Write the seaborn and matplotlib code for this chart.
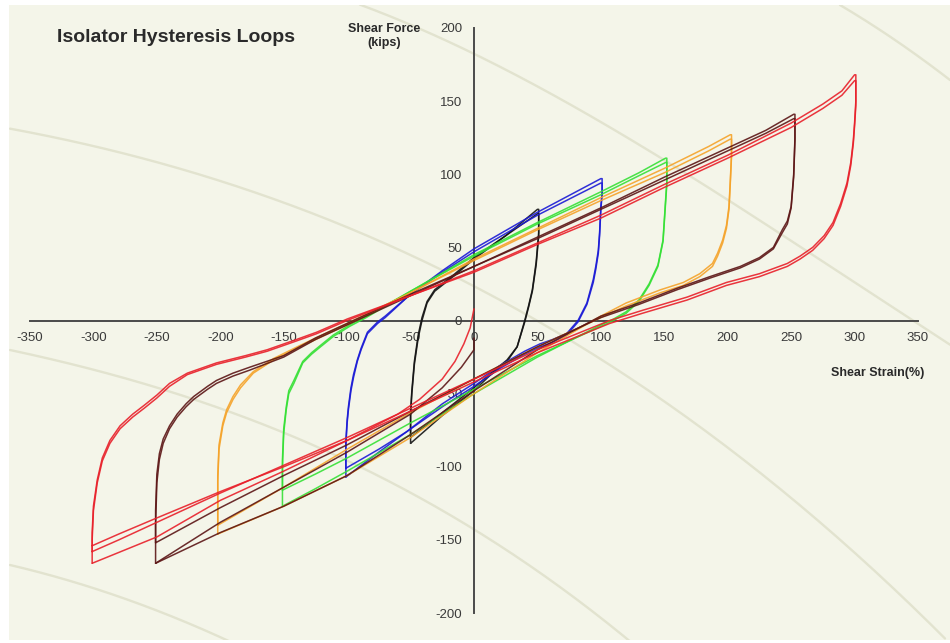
import numpy as np
import pandas as pd
import matplotlib
matplotlib.use("Agg")
import matplotlib.pyplot as plt
import seaborn as sns

# ---------------- data ----------------
# amplitude 50 % (black)
s50 = [-50, -50, -49, -47, -44, -41, -37, -31, -15, 0, 25, 50, 51, 51, 49, 46, 43, 40, 34, 26, 12, 0, -25, -50]
f50_c1 = [-84, -65, -50, -30, -12, 0, 12, 20, 31, 42, 58, 76, 76, 60, 40, 21, 10, 0, -18, -28, -38, -48, -65, -84]
f50_c2 = [-80, -62, -48, -28, -10, 2, 13, 21, 32, 43, 58, 73, 73, 58, 38, 20, 9, -1, -18, -27, -37, -46, -63, -80]

# amplitude 100 % (blue)
s100 = [-101, -101, -100, -99, -97, -95, -92, -89, -84, -76, -70, -50, -25, 0, 50, 100, 101, 101, 100, 99, 98, 96,
        94, 89, 82, 73, 62, 52, 40, 20, 0, -25, -53, -75, -101]
f100_c1 = [-107, -85, -70, -61, -48, -39, -28, -20, -9, -2, 2, 18, 34, 49, 74, 97, 97, 88, 78, 60, 48, 37,
           28, 12, 0, -9, -13, -16, -21, -31, -43, -57, -76, -90, -107]
f100_c2 = [-101, -82, -68, -59, -46, -37, -27, -19, -8, -1, 3, 18, 33, 47, 72, 94, 94, 86, 76, 58, 46, 35,
           26, 11, -1, -10, -15, -18, -23, -33, -45, -59, -76, -88, -101]

# amplitude 150 % (green)
s150 = [-151, -151, -150, -148, -146, -142, -135, -128, -121, -111, -98, -85, -50, 0, 50, 100, 130, 151, 152, 152,
        151, 149, 145, 138, 130, 120, 110, 100, 50, 0, -50, -100, -125, -151]
f150_c1 = [-127, -100, -77, -61, -50, -43, -29, -23, -18, -11, -4, 2, 20, 45, 67, 88, 101, 111, 111, 95,
           82, 55, 38, 25, 14, 6, 1, -3, -25, -50, -78, -103, -115, -127]
f150_c2 = [-116, -95, -74, -59, -48, -41, -28, -22, -17, -10, -3, 3, 20, 44, 66, 86, 99, 108, 108, 93,
           80, 54, 37, 24, 13, 5, 0, -4, -24, -47, -70, -94, -105, -116]

# amplitude 200 % (orange)
s200 = [-202, -202, -201, -198, -195, -190, -184, -174, -158, -137, -115, -100, -50, 0, 50, 100, 150, 185, 202,
        203, 203, 202, 201, 199, 196, 192, 188, 178, 165, 147, 120, 100, 50, 0, -50, -100, -150, -202]
f200_c1 = [-146, -110, -88, -72, -63, -54, -46, -36, -27, -18, -9, -3, 19, 42, 63, 84, 104, 119, 127,
           127, 114, 95, 78, 65, 55, 46, 39, 32, 26, 21, 12, 3, -22, -50, -80, -106, -127, -146]
f200_c2 = [-140, -106, -85, -70, -61, -52, -44, -35, -26, -17, -8, -2, 19, 41, 62, 82, 101, 116, 124,
           124, 112, 93, 76, 63, 53, 44, 37, 30, 24, 19, 10, 2, -18, -40, -63, -88, -114, -140]

# amplitude 250 % (dark red)
s250 = [-251, -251, -250, -248, -245, -240, -234, -227, -221, -210, -203, -190, -177, -150, -125, -100, -50, 0, 50,
        100, 150, 200, 230, 252, 253, 253, 252, 250, 247, 243, 236, 225, 210, 186, 160, 130, 100, 50, 0, -50,
        -100, -150, -200, -251]
f250_c1 = [-166, -140, -111, -95, -84, -74, -66, -59, -54, -47, -43, -38, -34, -25, -13, -3, 17, 37, 57,
           77, 98, 118, 130, 141, 141, 125, 100, 78, 68, 62, 50, 43, 37, 30, 22, 12, 3, -20, -48, -78,
           -106, -127, -145, -166]
f250_c2 = [-152, -130, -105, -91, -81, -72, -64, -57, -52, -45, -41, -36, -32, -24, -12, -2, 18, 37, 56,
           76, 96, 116, 128, 138, 138, 123, 98, 77, 66, 60, 49, 42, 36, 29, 21, 11, 2, -18, -40, -62,
           -85, -106, -128, -152]

# amplitude 300 % (red)
s300 = [-301, -301, -300, -297, -293, -287, -279, -269, -260, -250, -240, -226, -203, -180, -163, -140, -124, -100,
        -50, 0, 50, 100, 150, 200, 250, 275, 290, 300, 301, 301, 300, 299, 297, 294, 289, 283, 276, 267, 257, 247,
        225, 199, 168, 133, 107, 50, 0, -50, -100, -150, -200, -250, -280, -301]
f300_c1 = [-166, -150, -130, -111, -96, -84, -74, -66, -60, -53, -45, -37, -30, -25, -21, -14, -9, 0,
           17, 34, 53, 72, 93, 113, 135, 148, 157, 168, 168, 150, 135, 123, 108, 94, 80, 67, 58, 50, 44, 39,
           32, 26, 16, 7, 0, -20, -40, -60, -80, -99, -118, -138, -150, -158]
f300_c2 = [-158, -145, -127, -109, -94, -82, -72, -64, -58, -51, -43, -36, -29, -24, -20, -13, -8, 1,
           17, 33, 52, 70, 91, 111, 132, 145, 154, 164, 164, 147, 133, 121, 106, 92, 78, 65, 56, 48, 42, 37,
           30, 24, 14, 5, -2, -22, -42, -62, -82, -100, -117, -135, -146, -154]

# initial loading curves from the origin
s_init_red = [0, -3, -8, -15, -25, -43, -60, -100, -150, -200, -250, -301]
f_init_red = [8, -5, -16, -28, -40, -54, -64, -82, -103, -123, -148, -166]
s_init_brown = [0, 0, -10, -25, -50, -100, -150, -200, -251]
f_init_brown = [-12, -20, -32, -46, -64, -90, -114, -138, -166]

x_ticks = [-350, -300, -250, -200, -150, -100, -50, 0, 50, 100, 150, 200, 250, 300, 350]
y_ticks = [-200, -150, -100, -50, 0, 50, 100, 150, 200]

title_text = "Isolator Hysteresis Loops"
y_label = "Shear Force\n(kips)"
x_label = "Shear Strain(%)"

# ---------------- build long table ----------------
series = [
    ("50", "c1", s50, f50_c1), ("50", "c2", s50, f50_c2),
    ("100", "c1", s100, f100_c1), ("100", "c2", s100, f100_c2),
    ("150", "c1", s150, f150_c1), ("150", "c2", s150, f150_c2),
    ("200", "c1", s200, f200_c1), ("200", "c2", s200, f200_c2),
    ("250", "c1", s250, f250_c1), ("250", "c2", s250, f250_c2),
    ("300", "c1", s300, f300_c1), ("300", "c2", s300, f300_c2),
    ("300", "init", s_init_red, f_init_red),
    ("250", "init", s_init_brown, f_init_brown),
]
palette = {"50": "#141414", "100": "#1a1ad6", "150": "#35e035",
           "200": "#f5a32a", "250": "#5c1616", "300": "#e8202a"}

frames = []
for amp, cyc, s, f in series:
    frames.append(pd.DataFrame({"strain": s, "force": f, "amp": amp,
                                "unit": amp + cyc, "order": np.arange(len(s))}))
df = pd.concat(frames, ignore_index=True)

# ---------------- figure ----------------
W, H, DPI = 950, 643, 100
sns.set_style("white")
plt.rcParams["font.family"] = ["Liberation Sans", "DejaVu Sans"]
fig = plt.figure(figsize=(W / DPI, H / DPI), dpi=DPI, facecolor="white")

# background panel with decorative arcs (pixel coordinates)
bg = fig.add_axes([0, 0, 1, 1], zorder=0)
bg.set_xlim(0, W)
bg.set_ylim(H, 0)
bg.axis("off")
bg.add_patch(plt.Rectangle((9, 5), W - 9, 635, facecolor="#f4f5e9", edgecolor="none"))
arcs = [
    ([10, 200, 300, 400, 475, 525, 658, 775, 945], [130, 170, 210, 253, 287, 313, 400, 480, 640]),
    ([360, 475, 572, 665, 908, 950], [5, 53, 107, 160, 317, 345]),
    ([10, 233, 475, 632], [350, 413, 530, 643]),
    ([10, 120, 233], [565, 597, 643]),
    ([840, 895, 950], [5, 40, 80]),
]
clip = plt.Rectangle((9, 5), W - 9, 635, transform=bg.transData)
for ax_, ay_ in arcs:
    coef = np.polyfit(ax_, ay_, min(3, len(ax_) - 1))
    xx = np.linspace(min(ax_), max(ax_), 200)
    ln, = bg.plot(xx, np.polyval(coef, xx), color="#e2e3cf", lw=1.7)
    ln.set_clip_path(clip)

ax = fig.add_axes([30 / W, 30 / H, 888 / W, 585 / H], zorder=1)
ax.set_facecolor("none")

sns.lineplot(data=df, x="strain", y="force", hue="amp", units="unit",
             estimator=None, sort=False, palette=palette, lw=1.1, alpha=0.9,
             legend=False, ax=ax)

ax.set_xlim(-350, 350)
ax.set_ylim(-200, 200)
ax.set_xticks(x_ticks)
ax.set_yticks(y_ticks)
ax.set_xticklabels([str(v) for v in x_ticks])
ax.set_yticklabels([str(v) for v in y_ticks])
ax.set_xlabel("")
ax.set_ylabel("")
for side in ["top", "right"]:
    ax.spines[side].set_visible(False)
ax.spines["left"].set_position(("data", 0))
ax.spines["bottom"].set_position(("data", 0))
for side in ["left", "bottom"]:
    ax.spines[side].set_color("#4a4a4a")
    ax.spines[side].set_linewidth(1.4)
    ax.spines[side].set_zorder(0.5)
ax.tick_params(axis="both", direction="out", length=3.5, width=1.0, color="#4a4a4a",
               labelsize=9.5, labelcolor="#3a3a3a", pad=5)
ax.grid(False)

fig.text(57 / W, 1 - 38 / H, title_text, fontsize=14, fontweight="bold",
         color="#2a2a2a", ha="left", va="center")
fig.text(384 / W, 1 - 36 / H, y_label, fontsize=9, fontweight="bold",
         color="#2a2a2a", ha="center", va="center", linespacing=1.25)
fig.text(878 / W, 1 - 373 / H, x_label, fontsize=9, fontweight="bold",
         color="#2a2a2a", ha="center", va="center")

fig.savefig("out.png", dpi=DPI, facecolor="white")
